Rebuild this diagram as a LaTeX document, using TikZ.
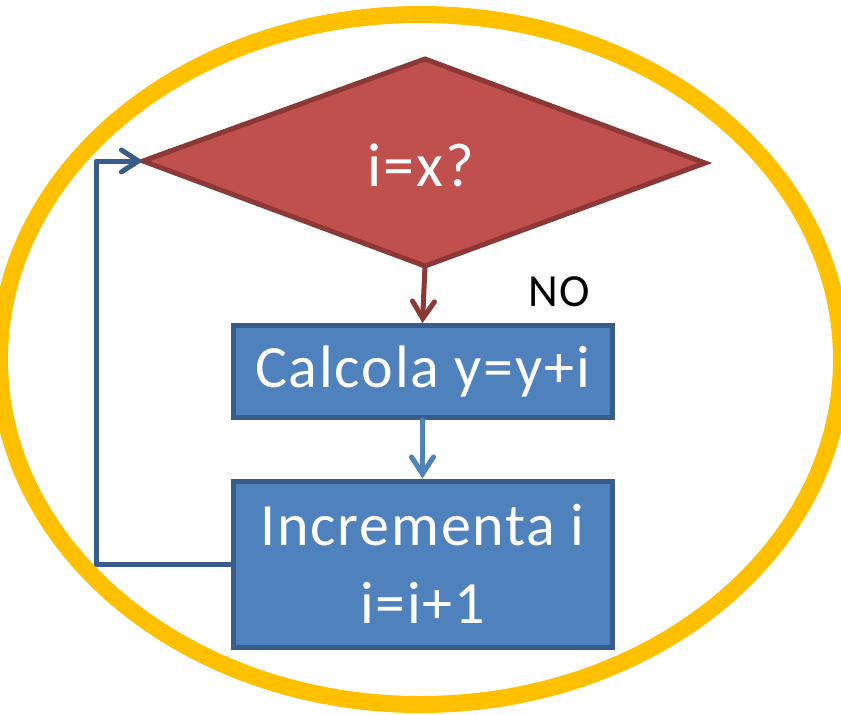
\documentclass[tikz,border=0pt]{standalone}
\usepackage{fontspec}
\setmainfont{Carlito}[LetterSpace=3]
\usetikzlibrary{arrows.meta,shapes.geometric}
\definecolor{ringgold}{HTML}{FFC000}
\definecolor{decfill}{HTML}{C0504D}
\definecolor{decline}{HTML}{8C3836}
\definecolor{boxfill}{HTML}{4F81BD}
\definecolor{boxline}{HTML}{385D8A}
\tikzset{
  procbox/.style={draw=boxline, fill=boxfill, line width=5pt, minimum width=379pt,
    text=white, align=center, inner sep=0pt, font=\fontsize{60}{78}\selectfont},
  barb/.style={-{Straight Barb[length=17pt,width=22pt,line cap=round]}, line width=5pt, line cap=round, line join=round}
}
\begin{document}
\begin{tikzpicture}[x=1pt,y=-1pt]
\useasboundingbox (0,0) rectangle (841,715);
% outer ring
\begin{scope}
\clip (0,0) rectangle (841,715);
\draw[ringgold, line width=17pt] (420.5,359.5) ellipse [x radius=421, y radius=345];
\end{scope}
% decision
\draw[decline, fill=decfill, line width=5pt, line join=miter]
  (143,161) -- (425,59) -- (705,163) -- (425,266) -- cycle;
\node[text=white, font=\fontsize{62}{64}\selectfont] (dec) at (421,165) {i=x?};
\coordinate (decbot) at (425,266);
\coordinate (decleft) at (143,161);
% process boxes
\node[procbox, minimum height=92pt] (calc) at (422.5,371.5) {Calcola y=y+i};
\node[procbox, minimum height=166pt] (incr) at (422.5,564) {Incrementa i\\i=i+1};
% connectors
\draw[barb, decline] (decbot) -- (calc.north);
\draw[barb, boxfill] (calc.south) -- (incr.north);
\coordinate (loopbot) at (96,564);
\coordinate (looptop) at (96,161);
\draw[barb, boxline, line cap=butt] (incr.west) -- (loopbot) -- (looptop) -- (decleft);
\node[font=\fontsize{46}{50}\selectfont] (no) at (559,292) {NO};
\end{tikzpicture}
\end{document}
